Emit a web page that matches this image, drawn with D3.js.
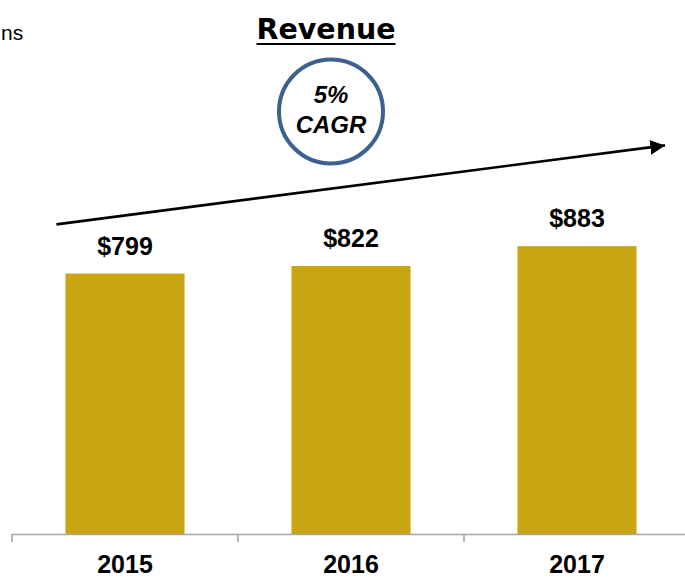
<!DOCTYPE html>
<html>
<head>
<meta charset="utf-8">
<script src="https://cdn.jsdelivr.net/npm/d3@7"></script>
<style>
  html, body { margin: 0; padding: 0; background: #fff; overflow: hidden; }
  svg { display: block; }
</style>
</head>
<body>
<script>
// data
var years = ["2015", "2016", "2017"];
var revenue = [799, 822, 883];
var valueLabels = ["$799", "$822", "$883"];
var cagrLines = ["5%", "CAGR"];
var titleText = "Revenue";
var unitText = "ns"; // only the tail of the unit note is visible in the source

var width = 685, height = 579;
var baseY = 534;

//__svg__//
var svg = d3.select("body").append("svg")
    .attr("width", width)
    .attr("height", height);

//__scales__//
var x = d3.scaleBand()
    .domain(years)
    .range([12, 690])
    .paddingInner(0.473)
    .paddingOuter(0.2365);

var y = d3.scaleLinear()
    .domain([0, 1000])
    .range([baseY, 208]);

var step = x.step();

//__bars__//
svg.selectAll("rect.bar")
    .data(years)
    .enter().append("rect")
    .attr("class", "bar")
    .attr("x", (d) => x(d))
    .attr("y", (d, i) => y(revenue[i]))
    .attr("width", x.bandwidth())
    .attr("height", (d, i) => y(0) - y(revenue[i]))
    .attr("fill", "#C9A514");

//__value labels__//
svg.selectAll("text.val")
    .data(years)
    .enter().append("text")
    .attr("class", "val")
    .attr("x", (d) => x(d) + x.bandwidth() / 2)
    .attr("y", (d, i) => y(revenue[i]) - 19)
    .attr("text-anchor", "middle")
    .style("font-family", "'Liberation Sans', Arial, sans-serif")
    .style("font-weight", "bold")
    .style("font-size", "25px")
    .attr("fill", "#000")
    .text((d, i) => valueLabels[i]);

//__x axis: baseline with ticks on the band edges__//
var axis = svg.append("g")
    .attr("transform", "translate(0," + baseY + ")");

axis.append("line")
    .attr("x1", x.range()[0])
    .attr("x2", width)
    .attr("y1", 0.5).attr("y2", 0.5)
    .attr("stroke", "#A6A6A6")
    .attr("stroke-width", 1.6);

axis.selectAll("line.tick")
    .data(years)
    .enter().append("line")
    .attr("class", "tick")
    .attr("x1", (d) => x(d) - (step - x.bandwidth()) / 2)
    .attr("x2", (d) => x(d) - (step - x.bandwidth()) / 2)
    .attr("y1", 0)
    .attr("y2", 8)
    .attr("stroke", "#A6A6A6")
    .attr("stroke-width", 1.6);

axis.selectAll("text.year")
    .data(years)
    .enter().append("text")
    .attr("class", "year")
    .attr("x", (d) => x(d) + x.bandwidth() / 2)
    .attr("y", 39)
    .attr("text-anchor", "middle")
    .style("font-family", "'Liberation Sans', Arial, sans-serif")
    .style("font-weight", "bold")
    .style("font-size", "25px")
    .attr("fill", "#000")
    .text((d) => d);

//__title with underline__//
var title = svg.append("text")
    .attr("x", 326)
    .attr("y", 39)
    .attr("text-anchor", "middle")
    .style("font-family", "'DejaVu Sans', sans-serif")
    .style("font-weight", "bold")
    .style("font-size", "28.5px")
    .attr("fill", "#000")
    .text(titleText);

var tb = title.node().getBBox();
svg.append("line")
    .attr("x1", tb.x).attr("x2", tb.x + tb.width)
    .attr("y1", 44).attr("y2", 44)
    .attr("stroke", "#000")
    .attr("stroke-width", 2);

//__unit note at the left edge__//
svg.append("text")
    .attr("x", 1)
    .attr("y", 40)
    .style("font-family", "'Liberation Sans', Arial, sans-serif")
    .style("font-size", "21px")
    .attr("fill", "#000")
    .text(unitText);

//__CAGR circle__//
svg.append("circle")
    .attr("cx", 331)
    .attr("cy", 111.5)
    .attr("r", 52)
    .attr("fill", "#fff")
    .attr("stroke", "#3C6090")
    .attr("stroke-width", 4);

svg.selectAll("text.cagr")
    .data(cagrLines)
    .enter().append("text")
    .attr("class", "cagr")
    .attr("x", 331)
    .attr("y", (d, i) => 103 + i * 30)
    .attr("text-anchor", "middle")
    .style("font-family", "'Liberation Sans', Arial, sans-serif")
    .style("font-weight", "bold")
    .style("font-style", "italic")
    .style("font-size", "24px")
    .attr("fill", "#000")
    .text((d) => d);

//__growth arrow__//
svg.append("defs").append("marker")
    .attr("id", "head")
    .attr("viewBox", "0 0 10 10")
    .attr("refX", 10).attr("refY", 5)
    .attr("markerWidth", 5.5).attr("markerHeight", 5.5)
    .attr("markerUnits", "strokeWidth")
    .attr("orient", "auto")
    .append("path")
    .attr("d", "M0,0 L10,5 L0,10 Z")
    .attr("fill", "#000");

svg.append("line")
    .attr("x1", x(years[0]) - 9)
    .attr("y1", y(950))
    .attr("x2", 665)
    .attr("y2", y(1192))
    .attr("stroke", "#000")
    .attr("stroke-width", 2.7)
    .attr("marker-end", "url(#head)");
</script>
</body>
</html>
